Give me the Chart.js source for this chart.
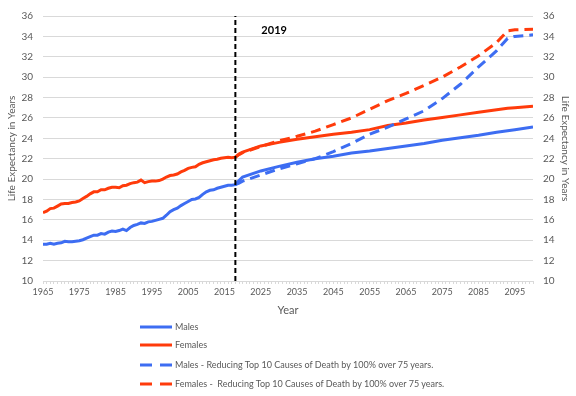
<!DOCTYPE html>
<html>
<head>
<meta charset="utf-8">
<script src="https://cdn.jsdelivr.net/npm/chart.js@4.4.1/dist/chart.umd.min.js"></script>
<style>
  html, body { margin: 0; padding: 0; background: #fff; }
  #wrap { position: relative; width: 576px; height: 396px; overflow: hidden; }
  #legend { position: absolute; left: 140px; top: 318px; font-family: Lato, "Open Sans", sans-serif; font-size: 9px; color: #595959; }
  .row { position: absolute; left: 0; height: 12px; white-space: pre; }
  .row svg { position: absolute; left: 0; top: 4px; }
  .row span { position: absolute; left: 35px; top: 0; line-height: 12px; white-space: pre; }
</style>
</head>
<body>
<div id="wrap">
  <canvas id="c" width="576" height="396"></canvas>
  <div id="legend"></div>
</div>
<script>
// ---- data ----
const histYears = [1965,1966,1967,1968,1969,1970,1971,1972,1973,1974,1975,1976,1977,1978,1979,1980,1981,1982,1983,1984,1985,1986,1987,1988,1989,1990,1991,1992,1993,1994,1995,1996,1997,1998,1999,2000,2001,2002,2003,2004,2005,2006,2007,2008,2009,2010,2011,2012,2013,2014,2015,2016,2017];
const malesHist = [13.6,13.6,13.7,13.6,13.7,13.75,13.9,13.85,13.85,13.9,13.95,14.05,14.2,14.35,14.5,14.5,14.65,14.6,14.8,14.9,14.85,14.95,15.1,14.95,15.25,15.45,15.55,15.7,15.65,15.8,15.85,15.95,16.05,16.15,16.45,16.8,17.0,17.15,17.4,17.6,17.8,18.0,18.05,18.2,18.5,18.75,18.9,18.95,19.1,19.2,19.3,19.4,19.4];
const femalesHist = [16.7,16.85,17.1,17.15,17.35,17.55,17.6,17.6,17.7,17.75,17.85,18.1,18.3,18.55,18.75,18.75,18.95,18.95,19.1,19.2,19.2,19.15,19.35,19.4,19.55,19.65,19.7,19.9,19.65,19.75,19.8,19.8,19.85,20.0,20.2,20.35,20.4,20.5,20.7,20.85,21.05,21.15,21.2,21.45,21.6,21.7,21.8,21.9,21.95,22.05,22.1,22.15,22.1];

const projYears = [2018,2019,2020,2025,2030,2035,2040,2045,2050,2055,2060,2065,2070,2075,2080,2085,2090,2093,2095,2100];
const malesProj = [19.45,19.85,20.2,20.8,21.25,21.65,22.0,22.25,22.55,22.75,23.0,23.25,23.5,23.8,24.05,24.3,24.6,24.75,24.85,25.1];
const femalesProj = [22.15,22.45,22.65,23.25,23.6,23.9,24.15,24.4,24.6,24.85,25.25,25.5,25.8,26.05,26.3,26.55,26.8,26.95,27.0,27.15];
const malesReduced = [19.45,19.6,19.8,20.4,21.0,21.5,22.0,22.7,23.5,24.4,25.1,25.9,26.7,27.9,29.3,31.0,32.6,33.8,34.0,34.15];
const femalesReduced = [22.15,22.4,22.6,23.2,23.75,24.2,24.7,25.35,26.0,26.85,27.7,28.4,29.2,30.0,31.0,32.1,33.4,34.55,34.65,34.7];

const seriesLabels = [
  'Males',
  'Females',
  'Males - Reducing Top 10 Causes of Death by 100% over 75 years.',
  'Females -  Reducing Top 10 Causes of Death by 100% over 75 years.'
];
const markerYear = 2018;
const markerLabel = '2019';
const xMin = 1965, xMax = 2100, xLabelStep = 10;
const yMin = 10, yMax = 36, yStep = 2;
const axisTitleX = 'Year';
const axisTitleY = 'Life Expectancy in Years';

// ---- styles ----
const BLUE = '#3D6DF2';
const RED = '#FF3B0B';
const GRID = '#D9D9D9';
const TXT = '#595959';
const FONT = 'Lato, "Open Sans", sans-serif';

function pts(xs, ys) { return xs.map((x, i) => ({x: x, y: ys[i]})); }

const datasets = [
  { label: seriesLabels[0], data: pts(histYears.concat(projYears), malesHist.concat(malesProj)), borderColor: BLUE, borderWidth: 3, order: 4 },
  { label: seriesLabels[1], data: pts(histYears.concat(projYears), femalesHist.concat(femalesProj)), borderColor: RED, borderWidth: 3, order: 3 },
  { label: seriesLabels[2], data: pts(projYears, malesReduced), borderColor: BLUE, borderWidth: 3, borderDash: [10, 6], order: 2 },
  { label: seriesLabels[3], data: pts(projYears, femalesReduced), borderColor: RED, borderWidth: 3, borderDash: [10, 6], order: 1 },
  { label: 'marker', data: [{x: markerYear, y: yMin}, {x: markerYear, y: yMax}], borderColor: '#000', borderWidth: 2, borderDash: [5, 3], order: 0 }
];
datasets.forEach(d => { d.pointRadius = 0; d.fill = false; d.tension = 0; d.borderCapStyle = 'butt'; });

const markerText = {
  id: 'markerText',
  afterDatasetsDraw(chart) {
    const xs = chart.scales.x, area = chart.chartArea, ctx = chart.ctx;
    ctx.save();
    ctx.font = 'bold 11px ' + FONT;
    ctx.fillStyle = '#000';
    ctx.textBaseline = 'middle';
    ctx.textAlign = 'left';
    ctx.fillText(markerLabel, xs.getPixelForValue(markerYear) + 26, area.top + 14);
    ctx.restore();
  }
};

new Chart(document.getElementById('c'), {
  type: 'line',
  data: { datasets: datasets },
  plugins: [markerText],
  options: {
    responsive: false,
    animation: false,
    layout: { padding: { top: 11, bottom: 78, left: 0, right: 0 } },
    plugins: { legend: { display: false }, tooltip: { enabled: false } },
    scales: {
      x: {
        type: 'linear', min: xMin, max: xMax,
        afterFit(s) { s.height = 37; },
        border: { display: true, color: GRID },
        grid: { drawOnChartArea: false, drawTicks: true, tickLength: 3, color: GRID },
        ticks: {
          stepSize: 1, autoSkip: false, maxRotation: 0, padding: 3,
          color: TXT, font: { family: FONT, size: 9 },
          callback: v => ((v - xMin) % xLabelStep === 0 ? String(v) : '')
        },
        title: { display: true, text: axisTitleX, color: TXT, font: { family: FONT, size: 11 }, padding: { top: 0, bottom: 1 } }
      },
      y: {
        position: 'left', min: yMin, max: yMax,
        afterFit(s) { s.width = 43; },
        border: { display: false },
        grid: { color: GRID, lineWidth: 1, drawTicks: false },
        ticks: { stepSize: yStep, padding: 10, color: TXT, font: { family: FONT, size: 10 } },
        title: { display: true, text: axisTitleY, color: TXT, font: { family: FONT, size: 10 }, padding: { top: 6, bottom: 0 } }
      },
      y2: {
        position: 'right', min: yMin, max: yMax,
        afterFit(s) { s.width = 43; },
        border: { display: false },
        grid: { drawOnChartArea: false, drawTicks: false },
        ticks: { stepSize: yStep, padding: 10, color: TXT, font: { family: FONT, size: 10 } },
        title: { display: true, text: axisTitleY, color: TXT, font: { family: FONT, size: 10 }, padding: { top: 5, bottom: 0 } }
      }
    }
  }
});

// ---- legend (HTML) ----
const legend = document.getElementById('legend');
const legendTops = [3, 21, 41, 60];
datasets.slice(0, 4).forEach((d, i) => {
  const row = document.createElement('div');
  row.className = 'row';
  row.style.top = legendTops[i] + 'px';
  const dash = d.borderDash ? 'stroke-dasharray="12 8"' : '';
  row.innerHTML = '<svg width="32" height="4"><line x1="0" y1="2" x2="32" y2="2" stroke="' + d.borderColor + '" stroke-width="3" ' + dash + '/></svg>';
  const sp = document.createElement('span');
  sp.textContent = d.label;
  row.appendChild(sp);
  legend.appendChild(row);
});
</script>
</body>
</html>
